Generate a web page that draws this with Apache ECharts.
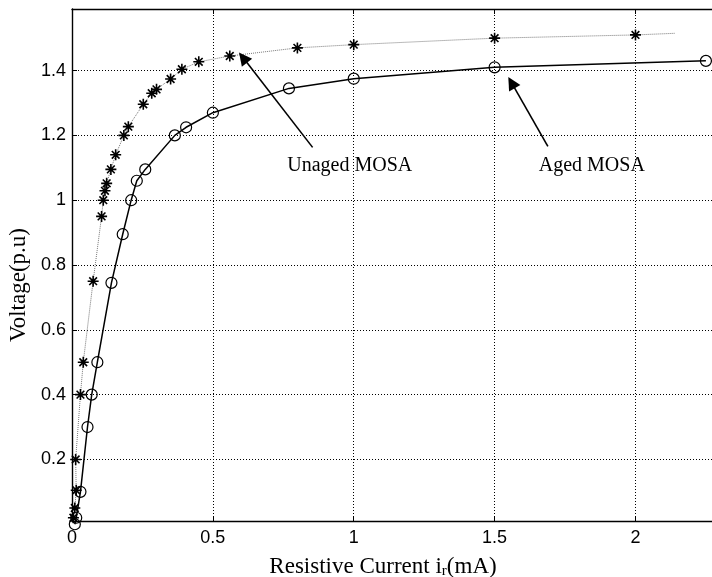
<!DOCTYPE html>
<html>
<head>
<meta charset="utf-8">
<title>Voltage vs Resistive Current</title>
<script src="https://cdn.jsdelivr.net/npm/echarts@6/dist/echarts.min.js"></script>
<style>
  html, body { margin: 0; padding: 0; background: #fff; }
  #chart { width: 712px; height: 577px; }
</style>
</head>
<body>
<div id="chart"></div>
<script>
// Aged MOSA: resistive current (mA) and voltage (p.u), circle markers, solid curve
const agedCurrent = [0.01, 0.015, 0.03, 0.055, 0.07, 0.09, 0.14, 0.18, 0.21, 0.23, 0.26, 0.365, 0.405, 0.5, 0.77, 1.0, 1.5, 2.25];
const agedVoltage = [0.0, 0.02, 0.1, 0.3, 0.4, 0.5, 0.745, 0.895, 1.0, 1.06, 1.095, 1.2, 1.225, 1.27, 1.345, 1.375, 1.41, 1.43];

// Unaged MOSA: star markers, dotted curve
const unagedCurrent = [0.005, 0.01, 0.015, 0.013, 0.03, 0.04, 0.075, 0.105, 0.111, 0.117, 0.123, 0.138, 0.155, 0.184, 0.2, 0.253, 0.283, 0.3, 0.35, 0.39, 0.45, 0.56, 0.8, 1.0, 1.5, 2.0];
const unagedVoltage = [0.02, 0.05, 0.105, 0.2, 0.4, 0.5, 0.75, 0.95, 1.0, 1.029, 1.052, 1.095, 1.14, 1.2, 1.227, 1.296, 1.33, 1.342, 1.374, 1.404, 1.427, 1.445, 1.47, 1.48, 1.5, 1.51];
// fitted curve continues a little past the last measured point
const unagedCurveEnd = [2.14, 1.515];

// Axis ticks
const xTicks = [0, 0.5, 1, 1.5, 2];
const yTicks = [0.2, 0.4, 0.6, 0.8, 1, 1.2, 1.4];

// Annotation anchors in data units: text position, arrow tail, arrow tip
const unagedNote = { text: 'Unaged MOSA', at: [0.986, 1.107], tail: [0.854, 1.163], tip: [0.607, 1.44] };
const agedNote = { text: 'Aged MOSA', at: [1.845, 1.107], tail: [1.689, 1.166], tip: [1.56, 1.363] };

const sans = 'Liberation Sans, Arial, Helvetica, sans-serif';
const serif = 'Liberation Serif, Times New Roman, serif';
const starPath = 'path://M5,0L5,10M0,5L10,5M1.5,1.5L8.5,8.5M1.5,8.5L8.5,1.5';

const agedData = agedCurrent.map((x, i) => [x, agedVoltage[i]]);
const unagedData = unagedCurrent.map((x, i) => [x, unagedVoltage[i]]);
unagedData.push({ value: unagedCurveEnd, symbol: 'none' });

function annotation(note) {
  return {
    markLine: {
      silent: true,
      animation: false,
      symbol: ['none', 'triangle'],
      symbolSize: 13,
      label: { show: false },
      lineStyle: { color: '#000', width: 1.6, type: 'solid' },
      itemStyle: { color: '#333' },
      emphasis: { disabled: true },
      data: [[{ coord: note.tail }, { coord: note.tip }]]
    },
    markPoint: {
      silent: true,
      animation: false,
      symbol: 'circle',
      symbolSize: 0,
      label: {
        show: true,
        position: 'inside',
        formatter: note.text,
        color: '#000',
        fontFamily: serif,
        fontSize: 20
      },
      data: [{ coord: note.at }]
    }
  };
}

const chart = echarts.init(document.getElementById('chart'), null, { renderer: 'canvas' });

const xBase = {
  type: 'value',
  min: 0,
  max: 2.3,
  interval: 0.5,
  axisLine: { show: true, onZero: false, lineStyle: { color: '#000', width: 1.4 } },
  axisTick: { show: true, inside: true, length: 5, lineStyle: { color: '#000', width: 1 } }
};
const yBase = {
  type: 'value',
  min: 0.01,
  max: 1.59,
  axisLine: { show: true, onZero: false, lineStyle: { color: '#000', width: 1.4 } },
  axisTick: { show: true, inside: true, length: 5, customValues: yTicks, lineStyle: { color: '#000', width: 1 } }
};

chart.setOption({
  backgroundColor: '#fff',
  animation: false,
  grid: { left: 72, top: 9, right: -8, bottom: 56, containLabel: false, outerBoundsMode: 'none' },
  xAxis: [
    Object.assign({}, xBase, {
      position: 'bottom',
      axisLabel: {
        color: '#000', fontFamily: sans, fontSize: 18, margin: 8,
        customValues: xTicks,
        formatter: v => String(v)
      },
      splitLine: { show: true, lineStyle: { color: '#000', width: 1, type: [1, 2] } },
      name: '{t|Resistive Current i}{s|r}{t|(mA)}',
      nameLocation: 'middle',
      nameGap: 33,
      nameTextStyle: {
        padding: [0, 26, 0, 0],
        rich: {
          t: { fontFamily: serif, fontSize: 23, color: '#000' },
          s: { fontFamily: serif, fontSize: 15, color: '#000', padding: [10, 0, 0, 0] }
        }
      }
    }),
    Object.assign({}, xBase, {
      position: 'top',
      axisLabel: { show: false },
      splitLine: { show: false }
    })
  ],
  yAxis: [
    Object.assign({}, yBase, {
      position: 'left',
      axisLabel: {
        color: '#000', fontFamily: sans, fontSize: 18, margin: 6,
        customValues: yTicks,
        formatter: v => String(v)
      },
      splitLine: { show: true, lineStyle: { color: '#000', width: 1, type: [1, 2] } },
      name: 'Voltage(p.u)',
      nameLocation: 'middle',
      nameGap: 36,
      nameRotate: 90,
      nameTextStyle: { fontFamily: serif, fontSize: 23, color: '#000', padding: [0, 40, 0, 0] }
    }),
    Object.assign({}, yBase, {
      position: 'right',
      axisLabel: { show: false },
      splitLine: { show: false }
    })
  ],
  series: [
    Object.assign({
      name: 'Unaged MOSA',
      type: 'line',
      data: unagedData,
      clip: false,
      symbol: starPath,
      symbolSize: 11,
      showAllSymbol: true,
      lineStyle: { color: '#777', width: 1, type: 'dotted' },
      itemStyle: { color: '#000', borderColor: '#000', borderWidth: 1.6 },
      emphasis: { disabled: true },
      z: 3
    }, annotation(unagedNote)),
    Object.assign({
      name: 'Aged MOSA',
      type: 'line',
      data: agedData,
      clip: false,
      symbol: 'circle',
      symbolSize: 11,
      showAllSymbol: true,
      lineStyle: { color: '#000', width: 1.5, type: 'solid' },
      itemStyle: { color: 'rgba(0,0,0,0)', borderColor: '#000', borderWidth: 1.2 },
      emphasis: { disabled: true },
      z: 4
    }, annotation(agedNote))
  ]
});
</script>
</body>
</html>
